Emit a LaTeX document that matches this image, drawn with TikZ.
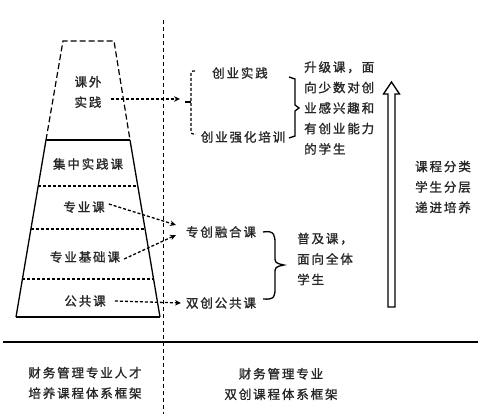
\documentclass[tikz,border=0pt]{standalone}
\usepackage{fontspec}
\setmainfont{Noto Sans CJK SC}
\newfontfamily\cjk[LetterSpace=15,FakeBold=1.2]{Noto Sans CJK SC}
\usetikzlibrary{arrows.meta,calc}
\tikzset{
  lbl/.style={font=\cjk\fontsize{12.5}{20.5}\selectfont, text=black!85, inner sep=1pt, align=center},
  lbll/.style={lbl, align=left},
  dsharrow/.style={line width=1.3pt, dash pattern=on 3pt off 2pt, -{Stealth[length=6pt,width=5.5pt]}},
  divider/.style={line width=1pt, dash pattern=on 4pt off 3pt},
  inner/.style={line width=1.2pt, dash pattern=on 3pt off 2pt},
  bracket/.style={line width=1.3pt},
}
\begin{document}
\begin{tikzpicture}[x=1pt,y=-1pt]
\useasboundingbox[fill=white] (0,0) rectangle (499,414);
% trapezoid corners
\coordinate (tl) at (63,41);
\coordinate (tr) at (114,41);
\coordinate (ml) at (46,140);
\coordinate (mr) at (130,140);
\coordinate (bl) at (16,317);
\coordinate (br) at (160,317);
\draw[line width=1.2pt, dash pattern=on 6pt off 3pt] (ml) -- (tl) -- (tr) -- (mr);
\draw[line width=1.3pt] (ml) -- (bl);
\draw[line width=1.3pt] (mr) -- (br);
\draw[line width=1.8pt] (bl) -- (br);
\draw[line width=2.4pt] (ml) -- (mr);
\draw[inner] ($(ml)!0.26!(bl)$) -- ($(mr)!0.26!(br)$);
\draw[inner] ($(ml)!0.503!(bl)$) -- ($(mr)!0.503!(br)$);
\draw[inner] ($(ml)!0.785!(bl)$) -- ($(mr)!0.785!(br)$);
% divider lines
\coordinate (vtop) at (163,20);
\coordinate (vbot) at (163,414);
\draw[divider] (vtop) -- (vbot);
\coordinate (hl) at (3,342);
\coordinate (hr) at (478,342);
\draw[line width=1.8pt] (hl) -- (hr);
% left labels
\node[lbl] (kw) at (88,92) {课外\\实践};
\node[lbl] (jz) at (88,164) {集中实践课};
\node[lbl] (zy) at (84,207) {专业课};
\node[lbl] (zyjc) at (85,257) {专业基础课};
\node[lbl] (gg) at (85,301) {公共课};
% right labels
\node[lbl] (cysj) at (240,73) {创业实践};
\node[lbl] (cyqh) at (243,137) {创业强化培训};
\node[lbll, anchor=west] (sjk) at (303,108) {升级课，面\\向少数对创\\业感兴趣和\\有创业能力\\的学生};
\node[lbl] (kc) at (443,187) {课程分类\\学生分层\\递进培养};
\node[lbl] (zcrh) at (221,232) {专创融合课};
\node[lbl] (scgg) at (221,303) {双创公共课};
\node[lbll, anchor=west] (pjk) at (296,259) {普及课，\\面向全体\\学生};
\node[lbl] (b1) at (85,383) {财务管理专业人才\\培养课程体系框架};
\node[lbl] (b2) at (281,384) {财务管理专业\\双创课程体系框架};
% arrows
\coordinate (a1) at (180,99);
\coordinate (a2) at (176,225);
\coordinate (a3) at (176,235);
\coordinate (a4) at (181,303);
\draw[dsharrow] (kw.east |- a1) ++(8,0) -- (a1);
\draw[dsharrow] ($(zy.east)+(3,-3)$) -- (a2);
\draw[dsharrow] ($(zyjc.east)+(3,2)$) -- (a3);
\draw[dsharrow] ($(gg.east)+(8,0)$) -- (a4);
% dashed bracket
\coordinate (db1) at (195,71);
\coordinate (db2) at (196,134);
\draw[line width=1.2pt, dash pattern=on 3pt off 2pt] (db1) .. controls (191,71) .. (191,76) -- (191,129) .. controls (191,134) .. (db2);
\coordinate (dm1) at (185,102);
\coordinate (dm2) at (191,102);
\draw[line width=1.2pt] (dm1) -- (dm2);
% upper solid bracket
\coordinate (ub1) at (289,77);
\coordinate (ub2) at (289,138);
\draw[bracket] (ub1) -- (295,79) -- (295,105) -- (299,108) -- (295,111) -- (295,136) -- (ub2);
% lower brace
\coordinate (lb1) at (263,232);
\coordinate (lb2) at (263,299);
\draw[bracket] (lb1) .. controls (275,230) and (275,236) .. (275,244) -- (275,256) .. controls (275,263) .. (284,265)
  .. controls (275,267) .. (275,274) -- (275,288) .. controls (275,296) and (275,300) .. (lb2);
% hollow arrow
\coordinate (hb1) at (388,307);
\coordinate (hb2) at (395,307);
\draw[line width=1.3pt, line join=miter] (hb1) -- (388,94) -- (383.5,94) -- (391.5,82) -- (399.5,94) -- (395,94) -- (hb2) -- cycle;
\end{tikzpicture}
\end{document}
